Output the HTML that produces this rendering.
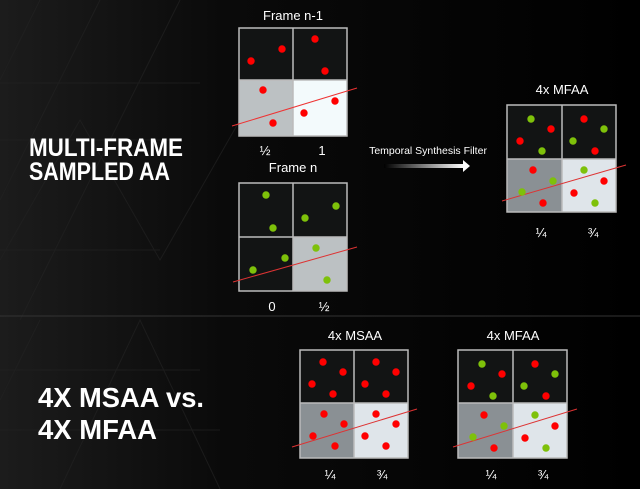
<!DOCTYPE html>
<html><head><meta charset="utf-8"><style>
html,body{margin:0;padding:0;background:#000;}
svg{display:block;}
text{font-family:"Liberation Sans",sans-serif;fill:#fff;}
</style></head><body>
<svg width="640" height="489" viewBox="0 0 640 489" xmlns="http://www.w3.org/2000/svg">
<defs>
<linearGradient id="bg" x1="0" y1="0" x2="1" y2="0">
<stop offset="0" stop-color="#1c1c1c"/><stop offset="0.35" stop-color="#0a0a0a"/><stop offset="1" stop-color="#000"/>
</linearGradient>
<linearGradient id="ar" x1="0" y1="0" x2="1" y2="0">
<stop offset="0" stop-color="#000"/><stop offset="1" stop-color="#fff"/>
</linearGradient>
</defs>
<rect width="640" height="489" fill="url(#bg)"/>
<g stroke="#222" stroke-width="1" fill="none" opacity="0.7">
<path d="M0 80 L40 0 M0 200 L100 0 M20 320 L180 0 M0 260 L80 120 L160 260 L240 120 M60 489 L140 320 L220 489 M0 400 L40 320"/>
<path d="M0 83 H200 M0 140 H180 M0 250 H160 M0 370 H200 M0 430 H220"/>
</g>
<line x1="0" y1="316" x2="640" y2="316" stroke="#333" stroke-width="1"/>

<!-- Left titles -->
<text x="29" y="156" font-size="25" font-weight="bold" textLength="154" lengthAdjust="spacingAndGlyphs">MULTI-FRAME</text>
<text x="29" y="180" font-size="25" font-weight="bold" textLength="141" lengthAdjust="spacingAndGlyphs">SAMPLED AA</text>
<text x="38" y="407" font-size="28" font-weight="bold" textLength="166" lengthAdjust="spacingAndGlyphs">4X MSAA vs.</text>
<text x="38" y="439" font-size="28" font-weight="bold" textLength="119" lengthAdjust="spacingAndGlyphs">4X MFAA</text>

<!-- Frame n-1 -->
<text x="293" y="20" font-size="13" text-anchor="middle">Frame n-1</text>
<rect x="239" y="28" width="54" height="52" fill="#121414"/>
<rect x="293" y="28" width="54" height="52" fill="#121414"/>
<rect x="239" y="80" width="54" height="56" fill="#bcc1c3"/>
<rect x="293" y="80" width="54" height="56" fill="#f3fafc"/>
<rect x="239" y="28" width="108" height="108" fill="none" stroke="#bbb" stroke-width="1.5"/>
<path d="M293 28V136M239 80H347" stroke="#bbb" stroke-width="1.5"/>
<line x1="232" y1="126" x2="357" y2="88" stroke="#e33" stroke-width="1"/>
<g fill="#f00"><circle cx="251" cy="61" r="3.7"/><circle cx="282" cy="49" r="3.7"/><circle cx="315" cy="39" r="3.7"/><circle cx="325" cy="71" r="3.7"/><circle cx="263" cy="90" r="3.7"/><circle cx="273" cy="123" r="3.7"/><circle cx="304" cy="113" r="3.7"/><circle cx="335" cy="101" r="3.7"/></g>
<text x="265" y="155" font-size="13" text-anchor="middle">½</text>
<text x="322" y="155" font-size="13" text-anchor="middle">1</text>

<!-- Frame n -->
<text x="293" y="172" font-size="13" text-anchor="middle">Frame n</text>
<rect x="239" y="183" width="54" height="54" fill="#121414"/>
<rect x="293" y="183" width="54" height="54" fill="#121414"/>
<rect x="239" y="237" width="54" height="54" fill="#121414"/>
<rect x="293" y="237" width="54" height="54" fill="#bcc1c3"/>
<rect x="239" y="183" width="108" height="108" fill="none" stroke="#bbb" stroke-width="1.5"/>
<path d="M293 183V291M239 237H347" stroke="#bbb" stroke-width="1.5"/>
<line x1="233" y1="282" x2="357" y2="247" stroke="#d33" stroke-width="1"/>
<g fill="#7ec10a"><circle cx="266" cy="195" r="3.7"/><circle cx="273" cy="228" r="3.7"/><circle cx="305" cy="218" r="3.7"/><circle cx="336" cy="206" r="3.7"/><circle cx="285" cy="258" r="3.7"/><circle cx="253" cy="270" r="3.7"/><circle cx="316" cy="248" r="3.7"/><circle cx="327" cy="280" r="3.7"/></g>
<text x="272" y="311" font-size="13" text-anchor="middle">0</text>
<text x="324" y="311" font-size="13" text-anchor="middle">½</text>

<!-- Arrow -->
<text x="428" y="154" font-size="10.5" text-anchor="middle">Temporal Synthesis Filter</text>
<rect x="384" y="164" width="80" height="4" fill="url(#ar)"/>
<path d="M463 160 L470 166 L463 172 Z" fill="#fff"/>

<!-- MFAA top -->
<text x="562" y="94" font-size="13" text-anchor="middle">4x MFAA</text>
<rect x="507" y="105" width="55" height="54" fill="#121414"/>
<rect x="562" y="105" width="54" height="54" fill="#121414"/>
<rect x="507" y="159" width="55" height="53" fill="#8a9094"/>
<rect x="562" y="159" width="54" height="53" fill="#dfe5ea"/>
<rect x="507" y="105" width="109" height="107" fill="none" stroke="#bbb" stroke-width="1.5"/>
<path d="M562 105V212M507 159H616" stroke="#bbb" stroke-width="1.5"/>
<line x1="502" y1="201" x2="626" y2="165" stroke="#d33" stroke-width="1"/>
<g fill="#7ec10a"><circle cx="531" cy="119" r="3.7"/><circle cx="542" cy="151" r="3.7"/><circle cx="604" cy="129" r="3.7"/><circle cx="573" cy="141" r="3.7"/><circle cx="553" cy="181" r="3.7"/><circle cx="522" cy="192" r="3.7"/><circle cx="584" cy="170" r="3.7"/><circle cx="595" cy="203" r="3.7"/></g>
<g fill="#f00"><circle cx="551" cy="129" r="3.7"/><circle cx="520" cy="141" r="3.7"/><circle cx="584" cy="119" r="3.7"/><circle cx="595" cy="151" r="3.7"/><circle cx="533" cy="170" r="3.7"/><circle cx="543" cy="203" r="3.7"/><circle cx="604" cy="181" r="3.7"/><circle cx="574" cy="193" r="3.7"/></g>
<text x="541" y="237" font-size="13" text-anchor="middle">¼</text>
<text x="593" y="237" font-size="13" text-anchor="middle">¾</text>

<!-- MSAA bottom -->
<text x="355" y="340" font-size="13" text-anchor="middle">4x MSAA</text>
<rect x="300" y="350" width="54" height="53" fill="#121414"/>
<rect x="354" y="350" width="54" height="53" fill="#121414"/>
<rect x="300" y="403" width="54" height="55" fill="#8a9094"/>
<rect x="354" y="403" width="54" height="55" fill="#dfe5ea"/>
<rect x="300" y="350" width="108" height="108" fill="none" stroke="#bbb" stroke-width="1.5"/>
<path d="M354 350V458M300 403H408" stroke="#bbb" stroke-width="1.5"/>
<line x1="292" y1="447" x2="417" y2="409" stroke="#d33" stroke-width="1"/>
<g fill="#f00"><circle cx="323" cy="362" r="3.7"/><circle cx="343" cy="372" r="3.7"/><circle cx="312" cy="384" r="3.7"/><circle cx="333" cy="394" r="3.7"/><circle cx="376" cy="362" r="3.7"/><circle cx="396" cy="372" r="3.7"/><circle cx="365" cy="384" r="3.7"/><circle cx="386" cy="394" r="3.7"/><circle cx="324" cy="414" r="3.7"/><circle cx="344" cy="424" r="3.7"/><circle cx="313" cy="436" r="3.7"/><circle cx="335" cy="446" r="3.7"/><circle cx="376" cy="414" r="3.7"/><circle cx="396" cy="424" r="3.7"/><circle cx="365" cy="436" r="3.7"/><circle cx="386" cy="446" r="3.7"/></g>
<text x="330" y="479" font-size="13" text-anchor="middle">¼</text>
<text x="382" y="479" font-size="13" text-anchor="middle">¾</text>

<!-- MFAA bottom -->
<text x="513" y="340" font-size="13" text-anchor="middle">4x MFAA</text>
<g transform="translate(-49,245)">
<rect x="507" y="105" width="55" height="53" fill="#121414"/>
<rect x="562" y="105" width="54" height="53" fill="#121414"/>
<rect x="507" y="158" width="55" height="55" fill="#8a9094"/>
<rect x="562" y="158" width="54" height="55" fill="#dfe5ea"/>
<rect x="507" y="105" width="109" height="108" fill="none" stroke="#bbb" stroke-width="1.5"/>
<path d="M562 105V213M507 158H616" stroke="#bbb" stroke-width="1.5"/>
<line x1="502" y1="202" x2="626" y2="164" stroke="#d33" stroke-width="1"/>
<g fill="#7ec10a"><circle cx="531" cy="119" r="3.7"/><circle cx="542" cy="151" r="3.7"/><circle cx="604" cy="129" r="3.7"/><circle cx="573" cy="141" r="3.7"/><circle cx="553" cy="181" r="3.7"/><circle cx="522" cy="192" r="3.7"/><circle cx="584" cy="170" r="3.7"/><circle cx="595" cy="203" r="3.7"/></g>
<g fill="#f00"><circle cx="551" cy="129" r="3.7"/><circle cx="520" cy="141" r="3.7"/><circle cx="584" cy="119" r="3.7"/><circle cx="595" cy="151" r="3.7"/><circle cx="533" cy="170" r="3.7"/><circle cx="543" cy="203" r="3.7"/><circle cx="604" cy="181" r="3.7"/><circle cx="574" cy="193" r="3.7"/></g>
</g>
<text x="491" y="479" font-size="13" text-anchor="middle">¼</text>
<text x="543" y="479" font-size="13" text-anchor="middle">¾</text>
</svg>
</body></html>
